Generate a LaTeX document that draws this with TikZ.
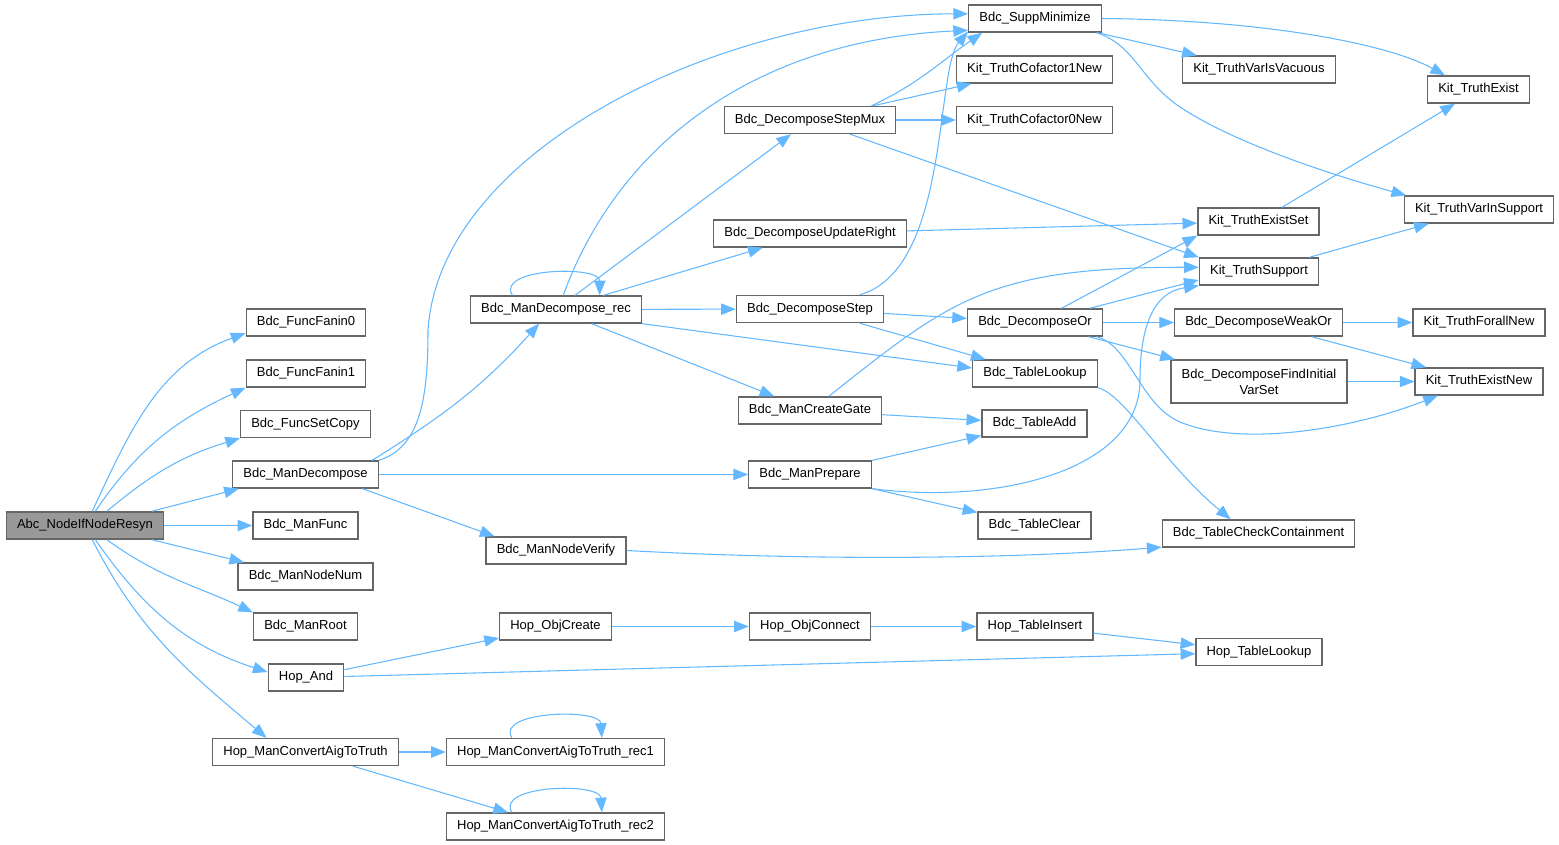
\documentclass[tikz,border=0pt]{standalone}
\usepackage{fontspec}
\setmainfont{Liberation Sans}
\usepackage{tikz}
\usetikzlibrary{arrows.meta}
\usepackage{xcolor}
\definecolor{edgeblue}{RGB}{99,184,255}
\definecolor{boxgray}{RGB}{102,102,102}
\definecolor{rootgray}{RGB}{153,153,153}

\begin{document}
\begin{tikzpicture}[x=0.75pt,y=-0.75pt, every node/.style={font=\fontsize{9.75}{12}\selectfont}, box/.style={draw=boxgray,fill=white,line width=1pt,align=center,minimum height=20.25pt,inner xsep=8pt,inner ysep=2pt}, root/.style={box,fill=rootgray}, arr/.style={-{Triangle[length=11pt,width=8.5pt]},edgeblue,line width=0.8pt}]
\useasboundingbox (0,0) rectangle (1559,845);
% column 1
\node[root] (root) at (85,525.5) {Abc\_NodeIfNodeResyn};
% column 2
\node[box] (ff0) at (306,322.5) {Bdc\_FuncFanin0};
\node[box] (ff1) at (306,373.5) {Bdc\_FuncFanin1};
\node[box] (fsc) at (305.5,424) {Bdc\_FuncSetCopy};
\node[box] (md) at (305.5,474.5) {Bdc\_ManDecompose};
\node[box] (mf) at (305.5,525.5) {Bdc\_ManFunc};
\node[box] (mnn) at (305.5,576.5) {Bdc\_ManNodeNum};
\node[box] (mr) at (305.5,626.5) {Bdc\_ManRoot};
\node[box] (ha) at (306,677.5) {Hop\_And};
\node[box] (hmc) at (305.5,752) {Hop\_ManConvertAigToTruth};
% column 3
\node[box] (rec) at (556,309.5) {Bdc\_ManDecompose\_rec};
\node[box] (nv) at (556,550.5) {Bdc\_ManNodeVerify};
\node[box] (hoc) at (555.5,626.5) {Hop\_ObjCreate};
\node[box] (hr1) at (555.5,752) {Hop\_ManConvertAigToTruth\_rec1};
\node[box] (hr2) at (555.5,826.5) {Hop\_ManConvertAigToTruth\_rec2};
% column 4
\node[box] (smux) at (810,120) {Bdc\_DecomposeStepMux};
\node[box] (ur) at (810,233.5) {Bdc\_DecomposeUpdateRight};
\node[box] (ds) at (810,309) {Bdc\_DecomposeStep};
\node[box] (cg) at (810,410.5) {Bdc\_ManCreateGate};
\node[box] (mp) at (810,474.5) {Bdc\_ManPrepare};
\node[box] (hocn) at (810,626.5) {Hop\_ObjConnect};
% column 5
\node[box] (sm) at (1035,18.5) {Bdc\_SuppMinimize};
\node[box] (cof1) at (1034.5,69.5) {Kit\_TruthCofactor1New};
\node[box] (cof0) at (1034.5,120) {Kit\_TruthCofactor0New};
\node[box] (dor) at (1035,322.5) {Bdc\_DecomposeOr};
\node[box] (tl) at (1035,373.5) {Bdc\_TableLookup};
\node[box] (ta) at (1034.5,423.5) {Bdc\_TableAdd};
\node[box] (tc) at (1034.5,525.5) {Bdc\_TableClear};
\node[box] (hti) at (1035,626.5) {Hop\_TableInsert};
% column 6
\node[box] (vv) at (1259,69.5) {Kit\_TruthVarIsVacuous};
\node[box] (kes) at (1258.5,221.5) {Kit\_TruthExistSet};
\node[box] (kts) at (1259,271.5) {Kit\_TruthSupport};
\node[box] (wo) at (1258.5,322.5) {Bdc\_DecomposeWeakOr};
\node[box,minimum height=32.25pt] (fi) at (1259,381.5) {Bdc\_DecomposeFindInitial\\VarSet};
\node[box] (btc) at (1258.5,533.5) {Bdc\_TableCheckContainment};
\node[box] (htl) at (1259,652) {Hop\_TableLookup};
% column 7
\node[box] (kte) at (1478.5,89.5) {Kit\_TruthExist};
\node[box] (kvs) at (1479,209.5) {Kit\_TruthVarInSupport};
\node[box] (kfn) at (1479,322.5) {Kit\_TruthForallNew};
\node[box] (ken) at (1479,381.5) {Kit\_TruthExistNew};
% calls from the root
\draw[arr] (root.63) to[out=65,in=200] (ff0.190);
\draw[arr] (root.54) to[out=56,in=205] (ff1.south west);
\draw[arr] (root.33) to[out=40,in=197] (fsc.south west);
\draw[arr] (root.12) -- (md.-168);
\draw[arr] (root) -- (mf);
\draw[arr] (root.-12) -- (mnn.167);
\draw[arr] (root.-33) to[out=-36,in=155] (mr.north west);
\draw[arr] (root.-54) to[out=-55,in=162] (ha.172);
\draw[arr] (root.-63) to[out=-63,in=140] (hmc.160);
% Bdc_ManDecompose
\draw[arr] (md.north east) .. controls (420,447) and (428,400) .. (428,330) .. controls (440,150) and (720,14) .. (sm.176);
\draw[arr] (md.12) to[out=32,in=228] (rec.-140);
\draw[arr] (md) -- (mp);
\draw[arr] (md.-14) -- (nv.167);
% Bdc_ManDecompose_rec
\draw[arr] (rec.162) .. controls (495,268) and (600,265) .. (rec.18);
\draw[arr] (rec.63) .. controls (620,140) and (760,40) .. (sm.190);
\draw[arr] (rec) -- (smux);
\draw[arr] (rec) -- (ur);
\draw[arr] (rec) -- (ds);
\draw[arr] (rec.south east) -- (tl.175);
\draw[arr] (rec) -- (cg);
% column 4 calls
\draw[arr] (smux.13) to[out=25,in=215] (sm.-165);
\draw[arr] (smux) -- (cof1);
\draw[arr] (smux) -- (cof0);
\draw[arr] (smux) -- (kts.north west);
\draw[arr] (ur) -- (kes);
\draw[arr] (ds.16) .. controls (950,270) and (935,70) .. (sm.-169);
\draw[arr] (ds) -- (dor);
\draw[arr] (ds) -- (tl);
\draw[arr] (cg.37) .. controls (950,300) and (990,267) .. (kts.176);
\draw[arr] (cg) -- (ta);
\draw[arr] (mp) -- (ta);
\draw[arr] (mp) -- (tc);
\draw[arr] (mp.south east) .. controls (1000,505) and (1140,470) .. (1140,380) .. controls (1140,300) and (1170,290) .. (kts.south west);
\draw[arr] (nv.east) .. controls (800,560) and (1000,560) .. (btc.188);
% column 5 calls
\draw[arr] (sm.east) .. controls (1270,20) and (1390,45) .. (kte.157);
\draw[arr] (sm) -- (vv);
\draw[arr] (sm.-13) .. controls (1135,45) and (1140,80) .. (1180,107) .. controls (1240,147) and (1350,180) .. (kvs.169);
\draw[arr] (dor) -- (kes.south west);
\draw[arr] (dor) -- (kts.188);
\draw[arr] (dor) -- (wo);
\draw[arr] (dor) -- (fi);
\draw[arr] (dor.-13) .. controls (1130,345) and (1140,405) .. (1180,422) .. controls (1240,447) and (1350,430) .. (ken.-161);
\draw[arr] (tl.south east) .. controls (1125,395) and (1165,465) .. (btc.153);
% column 6 calls
\draw[arr] (kes) -- (kte);
\draw[arr] (kts) -- (kvs);
\draw[arr] (wo) -- (kfn);
\draw[arr] (wo) -- (ken);
\draw[arr] (fi) -- (ken);
% Hop calls
\draw[arr] (ha) -- (hoc);
\draw[arr] (ha) -- (htl);
\draw[arr] (hoc) -- (hocn);
\draw[arr] (hocn) -- (hti);
\draw[arr] (hti) -- (htl);
\draw[arr] (hmc) -- (hr1);
\draw[arr] (hmc) -- (hr2);
\draw[arr] (hr1.162) .. controls (495,711) and (600,708) .. (hr1.17);
\draw[arr] (hr2.162) .. controls (495,785) and (600,782) .. (hr2.17);
\end{tikzpicture}
\end{document}
